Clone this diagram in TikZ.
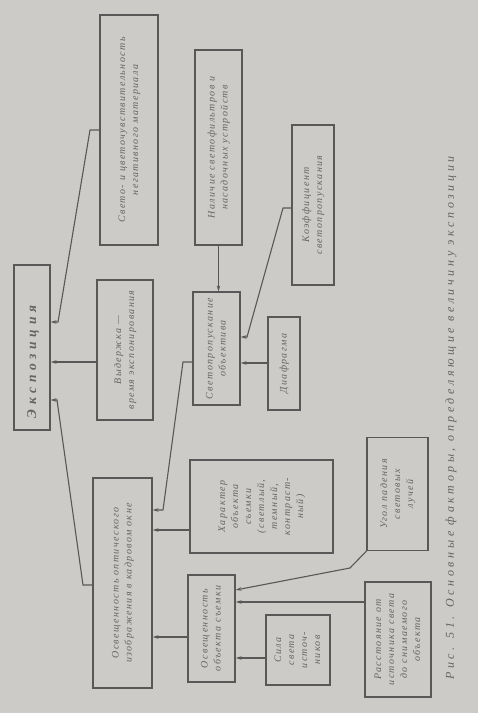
\documentclass[tikz,border=0pt]{standalone}
\usepackage{fontspec}
\setmainfont{Liberation Serif}
\newfontfamily\boxfont[LetterSpace=14]{Liberation Serif}
\newfontfamily\capfont[LetterSpace=30]{Liberation Serif}
\newfontfamily\expfont[LetterSpace=35]{Liberation Serif}
\usetikzlibrary{arrows.meta}
\definecolor{paper}{RGB}{204,203,199}
\definecolor{ink}{RGB}{88,88,88}
\definecolor{txt}{RGB}{100,100,100}
\newcommand{\rt}[1]{\rotatebox{90}{\boxfont\itshape\fontsize{10}{13}\selectfont\color{txt}\begin{tabular}{@{}c@{}}#1\end{tabular}}}
\tikzset{
  fbox/.style={draw=ink, line width=1.2pt, inner sep=0pt},
  conn/.style={draw=ink, line width=1.1pt, -{Stealth[length=6pt,width=3.5pt]}},
}
\begin{document}
\begin{tikzpicture}[x=1pt,y=-1pt]
\fill[paper] (0,0) rectangle (478,713);
\useasboundingbox (0,0) rectangle (478,713);
% nodes
\node[fbox, minimum width=36pt, minimum height=165pt] (exp) at (32,347.5) {};
\node at (33,362) {\rotatebox{90}{\expfont\bfseries\itshape\fontsize{13.5}{15}\selectfont\color{txt}Экспозиция}};
\node[fbox, minimum width=58pt, minimum height=230pt] (sens) at (129,130)
  {\rt{Свето- и цветочувствительность\\негативного материала}};
\node[fbox, minimum width=56pt, minimum height=140pt] (vyd) at (125,350)
  {\rt{Выдержка —\\время экспонирования}};
\node[fbox, minimum width=59pt, minimum height=210pt] (osv) at (122.5,583)
  {\rt{Освещенность оптического\\изображения в кадровом окне}};
\node[fbox, minimum width=47pt, minimum height=113pt] (svet) at (216.5,348.5)
  {\rt{Светопропускание\\объектива}};
\node[fbox, minimum width=47pt, minimum height=195pt] (filt) at (218.5,147.5)
  {\rt{Наличие светофильтров и\\насадочных устройств}};
\node[fbox, minimum width=32pt, minimum height=93pt] (diaf) at (284,363.5)
  {\rt{Диафрагма}};
\node[fbox, minimum width=42pt, minimum height=160pt] (koef) at (313,205)
  {\rt{Коэффициент\\светопропускания}};
\node[fbox, minimum width=143pt, minimum height=93pt] (har) at (261.5,506.5)
  {\rt{Характер\\объекта\\съемки\\(светлый,\\темный,\\контраст-\\ный)}};
\node[fbox, minimum width=47pt, minimum height=107pt] (osvob) at (211.5,628.5)
  {\rt{Освещенность\\объекта съемки}};
\node[fbox, minimum width=64pt, minimum height=70pt] (sila) at (298,650)
  {\rt{Сила\\света\\источ-\\ников}};
\node[fbox, minimum width=61pt, minimum height=113pt] (ugol) at (397.5,494)
  {\rt{Угол падения\\световых\\лучей}};
\node[fbox, minimum width=66pt, minimum height=115pt] (rasst) at (398,639.5)
  {\rt{Расстояние от\\источника света\\до снимаемого\\объекта}};
% caption
\node at (451,418) {\rotatebox{90}{\capfont\itshape\fontsize{12}{14}\selectfont\color{txt}Рис. 51. Основные факторы, определяющие величину экспозиции}};
% connectors
\draw[conn] (sens.west |- 0,130) -- (90,130) -- (58,322) -- (exp.east |- 0,322);
\draw[conn] (vyd.west |- 0,362) -- (exp.east |- 0,362);
\draw[conn] (osv.west |- 0,585) -- (83,585) -- (57,400) -- (exp.east |- 0,400);
\draw[conn] (svet.west |- 0,362) -- (183,362) -- (163,510) -- (osv.east |- 0,510);
\draw[conn] (har.west |- 0,530) -- (osv.east |- 0,530);
\draw[conn] (osvob.west |- 0,637) -- (osv.east |- 0,637);
\draw[conn] (filt.south |- 0,245) -- (filt.south |- svet.north);
\draw[conn] (diaf.west |- 0,363) -- (svet.east |- 0,363);
\draw[conn] (koef.west |- 0,208) -- (283,208) -- (247,337) -- (svet.east |- 0,337);
\draw[conn] (sila.west |- 0,658) -- (osvob.east |- 0,658);
\draw[conn] (ugol.south west) -- (350,568) -- (osvob.east |- 0,590);
\draw[conn] (rasst.west |- 0,602) -- (osvob.east |- 0,602);
\end{tikzpicture}
\end{document}
